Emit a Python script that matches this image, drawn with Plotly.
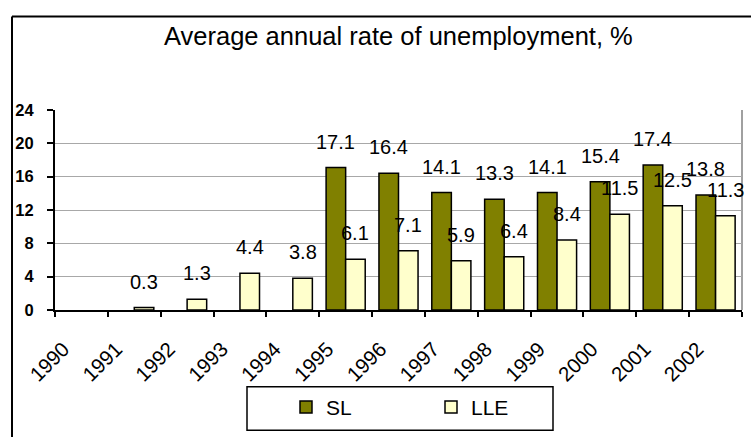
import plotly.graph_objects as go

# Average annual unemployment rate, %
years = ["1990", "1991", "1992", "1993", "1994", "1995", "1996",
         "1997", "1998", "1999", "2000", "2001", "2002"]
sl_values = [None, None, None, None, None, 17.1, 16.4, 14.1, 13.3, 14.1, 15.4, 17.4, 13.8]
lle_values = [None, 0.3, 1.3, 4.4, 3.8, 6.1, 7.1, 5.9, 6.4, 8.4, 11.5, 12.5, 11.3]
y_ticks = [0, 4, 8, 12, 16, 20, 24]

FONT = "Liberation Sans, Arial, sans-serif"
SL_COLOR = "#808000"
LLE_COLOR = "#FFFFCC"

W, H = 751, 437
L, R, T, B = 55, 9, 110, 124
plot_w = W - L - R
plot_h = H - T - B


def px_x(px):
    """Horizontal pixel position -> paper coordinate."""
    return (px - L) / plot_w


def px_y(py):
    """Vertical pixel position (from top) -> paper coordinate."""
    return (T + plot_h - py) / plot_h


fig = go.Figure()
fig.add_trace(go.Bar(
    name="SL", x=years, y=sl_values,
    marker=dict(color=SL_COLOR, line=dict(color="black", width=1.5)),
))
fig.add_trace(go.Bar(
    name="LLE", x=years, y=lle_values,
    marker=dict(color=LLE_COLOR, line=dict(color="black", width=1.5)),
))

bargap = 0.26
cat_w = plot_w / len(years)
half_bar = cat_w * (1 - bargap) / 4

# value labels above each bar (x given as category index)
annotations = []
for series, shift in ((sl_values, -half_bar), (lle_values, half_bar)):
    for i, v in enumerate(series):
        if v is None:
            continue
        annotations.append(dict(
            x=i, y=v, xref="x", yref="y", text=f"{v:.1f}",
            showarrow=False, xshift=shift, yshift=26, yanchor="middle",
            font=dict(family=FONT, size=20, color="black"),
        ))

# chart title, centred over the plot area
annotations.append(dict(
    x=0.5, y=px_y(35), xref="paper", yref="paper",
    text="Average annual rate of unemployment, %",
    showarrow=False, yanchor="middle",
    font=dict(family=FONT, size=25.5, color="black"),
))

shapes = [
    # outer chart frame (left and top edges)
    dict(type="line", xref="paper", yref="paper",
         x0=px_x(12), x1=px_x(W + 10), y0=px_y(15), y1=px_y(15),
         line=dict(color="black", width=2)),
    dict(type="line", xref="paper", yref="paper",
         x0=px_x(12), x1=px_x(12), y0=px_y(15), y1=px_y(H + 10),
         line=dict(color="black", width=2)),
    # plot area right edge
    dict(type="line", xref="paper", yref="paper", x0=1, x1=1, y0=0, y1=1,
         line=dict(color="#a0a0a0", width=2), layer="below"),
    # legend frame
    dict(type="rect", xref="paper", yref="paper",
         x0=px_x(247), x1=px_x(553), y0=px_y(435), y1=px_y(391),
         line=dict(color="black", width=1.5), fillcolor="rgba(0,0,0,0)"),
]

fig.update_layout(
    width=W, height=H,
    margin=dict(l=L, r=R, t=T, b=B),
    paper_bgcolor="white", plot_bgcolor="white",
    barmode="group", bargap=bargap, bargroupgap=0,
    font=dict(family=FONT, color="black"),
    annotations=annotations,
    shapes=shapes,
    legend=dict(
        orientation="h", x=px_x(286), y=px_y(391),
        xanchor="left", yanchor="top",
        borderwidth=0, bgcolor="rgba(0,0,0,0)",
        font=dict(family=FONT, size=21, color="black"),
        entrywidth=100, entrywidthmode="pixels",
    ),
)
fig.update_xaxes(
    type="category", range=[-0.5, len(years) - 0.5],
    tickangle=-45, tickson="boundaries",
    ticks="outside", ticklen=5, tickwidth=1.5, tickcolor="black",
    showline=True, linecolor="black", linewidth=2,
    tickfont=dict(family=FONT, size=20.5, color="black"),
    ticklabelstandoff=17, ticklabelshift=-18,
    showgrid=False,
)
fig.update_yaxes(
    range=[0, 24], tickvals=y_ticks, ticktext=[str(v) for v in y_ticks],
    ticks="outside", ticklen=6, tickwidth=1.5, tickcolor="black",
    showline=True, linecolor="black", linewidth=2,
    showgrid=True, gridcolor="#a8a8a8", gridwidth=1,
    tickfont=dict(family=FONT, size=16.5, color="black", weight="bold"),
    ticklabelstandoff=10, zeroline=False,
)

fig.write_html("out.html")
